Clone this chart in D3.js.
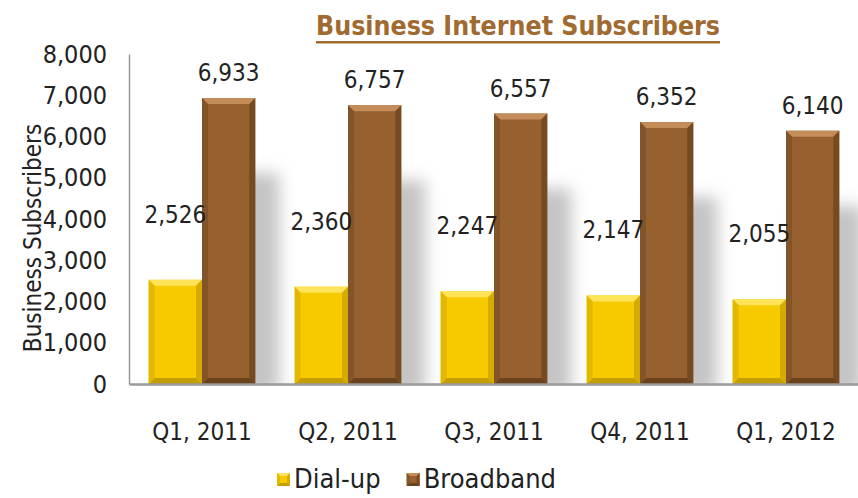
<!DOCTYPE html>
<html>
<head>
<meta charset="utf-8">
<script src="https://cdn.jsdelivr.net/npm/d3@7"></script>
<style>
  body { margin: 0; background: #fff; }
  svg text { font-family: "Liberation Sans Narrow", "DejaVu Sans Condensed", sans-serif; }
</style>
</head>
<body>
<div id="chart"></div>
<script>

var quarters = ["Q1, 2011", "Q2, 2011", "Q3, 2011", "Q4, 2011", "Q1, 2012"];
var dialUp = [2526, 2360, 2247, 2147, 2055];
var broadband = [6933, 6757, 6557, 6352, 6140];
var yTicks = [0, 1000, 2000, 3000, 4000, 5000, 6000, 7000, 8000];
var seriesNames = ["Dial-up", "Broadband"];

var width = 858, height = 498;
var fmt = d3.format(",");

var svg = d3.select("#chart")
  .append("svg")
  .attr("width", width)
  .attr("height", height);

var defs = svg.append("defs");
defs.append("filter")
  .attr("id", "blur")
  .attr("x", "-50%").attr("y", "-50%")
  .attr("width", "200%").attr("height", "200%")
  .append("feGaussianBlur")
  .attr("stdDeviation", 8);

var x = d3.scaleBand()
  .domain(quarters)
  .range([129, 859])
  .paddingInner(0.27)
  .paddingOuter(0.135);

var sub = d3.scaleBand()
  .domain(seriesNames)
  .range([0, x.bandwidth()]);

var y = d3.scaleLinear()
  .domain([0, 8000])
  .range([384, 54]);

var rows = quarters.map(function (q, i) {
  return { q: q, values: [dialUp[i], broadband[i]] };
});

// soft shadows behind bars
var shadows = svg.append("g");
rows.forEach(function (r) {
  var bx = x(r.q) + sub("Broadband");
  var top = y(r.values[1]) + 75;
  shadows.append("rect")
    .attr("x", bx + 14)
    .attr("y", top)
    .attr("width", sub.bandwidth() + 10)
    .attr("height", y(0) - top + 10)
    .attr("fill", "#c4c4c4")
    .attr("filter", "url(#blur)");
});
// white cover below baseline
svg.append("rect")
  .attr("x", 0).attr("y", y(0) + 1)
  .attr("width", width).attr("height", height - y(0))
  .attr("fill", "#fff");

var palette = {
  "Dial-up": { main: "#f7ca00", light: "#ffe45a", dark: "#c49e00", side: "#e3b800" },
  "Broadband": { main: "#96612f", light: "#c48c58", dark: "#6a421c", side: "#83542a" }
};

function bevelBar(g, bx, by, bw, bh, c, b) {
  g.append("rect").attr("x", bx).attr("y", by).attr("width", bw).attr("height", bh).attr("fill", c.main);
  // top
  g.append("polygon").attr("points", [[bx, by], [bx + bw, by], [bx + bw - b, by + b], [bx + b, by + b]].join(" ")).attr("fill", c.light);
  // bottom
  g.append("polygon").attr("points", [[bx, by + bh], [bx + bw, by + bh], [bx + bw - b, by + bh - b], [bx + b, by + bh - b]].join(" ")).attr("fill", c.dark);
  // left
  g.append("polygon").attr("points", [[bx, by], [bx + b, by + b], [bx + b, by + bh - b], [bx, by + bh]].join(" ")).attr("fill", c.side);
  // right
  g.append("polygon").attr("points", [[bx + bw, by], [bx + bw - b, by + b], [bx + bw - b, by + bh - b], [bx + bw, by + bh]].join(" ")).attr("fill", c.dark).attr("opacity", 0.7);
}

var bars = svg.append("g");
rows.forEach(function (r) {
  seriesNames.forEach(function (s, j) {
    var v = r.values[j];
    var bx = x(r.q) + sub(s);
    bevelBar(bars, bx, y(v), sub.bandwidth(), y(0) - y(v), palette[s], 6);
  });
});

// axes
var yAxis = svg.append("g")
  .attr("transform", "translate(129,0)")
  .call(d3.axisLeft(y).tickValues(yTicks).tickFormat(fmt).tickSize(0).tickPadding(22));
yAxis.select(".domain").attr("stroke", "#999").attr("stroke-width", 1.5);
yAxis.selectAll("text").attr("font-size", 25).attr("fill", "#222");

var xAxis = svg.append("g")
  .attr("transform", "translate(0," + y(0) + ")")
  .call(d3.axisBottom(x).tickSize(0).tickPadding(39));
xAxis.select(".domain").attr("stroke", "#999").attr("stroke-width", 2.5);
xAxis.selectAll("text").attr("font-size", 24).attr("fill", "#222");

// value labels
var labels = svg.append("g").attr("font-size", 24).attr("fill", "#222").attr("text-anchor", "middle");
rows.forEach(function (r) {
  labels.append("text")
    .attr("x", x(r.q) + sub("Dial-up") + sub.bandwidth() / 2)
    .attr("y", y(r.values[0]) - 57)
    .text(fmt(r.values[0]));
  labels.append("text")
    .attr("x", x(r.q) + sub("Broadband") + sub.bandwidth() / 2)
    .attr("y", y(r.values[1]) - 17)
    .text(fmt(r.values[1]));
});

// y axis title
svg.append("text")
  .attr("transform", "translate(41,238) rotate(-90)")
  .attr("text-anchor", "middle")
  .attr("font-size", 24)
  .attr("fill", "#222")
  .text("Business Subscribers");

// title
var title = svg.append("text")
  .attr("x", 518)
  .attr("y", 35)
  .attr("text-anchor", "middle")
  .attr("font-size", 26.5)
  .attr("font-weight", "bold")
  .attr("fill", "#a06a30")
  .text("Business Internet Subscribers");
var tb = title.node().getBBox();
svg.append("rect")
  .attr("x", tb.x).attr("y", 41)
  .attr("width", tb.width).attr("height", 2.5)
  .attr("fill", "#a06a30");

// legend
var legend = svg.append("g").attr("transform", "translate(277,480)");
var lx = 0;
seriesNames.forEach(function (s) {
  bevelBar(legend, lx, -7, 13, 13, palette[s], 3);
  var t = legend.append("text")
    .attr("x", lx + 17)
    .attr("y", 8)
    .attr("font-size", 27)
    .attr("fill", "#222")
    .text(s);
  lx += 17 + t.node().getComputedTextLength() + 26;
});

</script>
</body>
</html>
